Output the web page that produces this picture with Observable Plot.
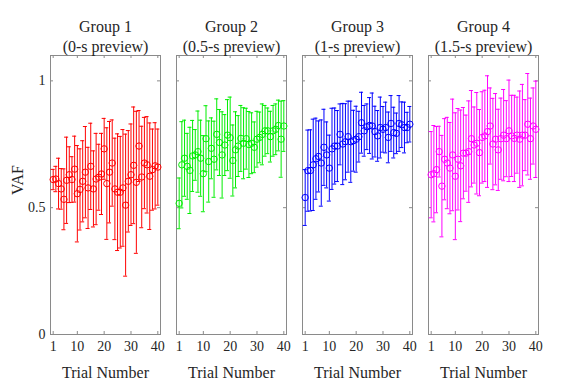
<!DOCTYPE html>
<html><head><meta charset="utf-8">
<script src="https://cdn.jsdelivr.net/npm/d3@7"></script>
<script src="https://cdn.jsdelivr.net/npm/@observablehq/plot@0.6"></script>
<style>
body{margin:0;background:#fff;}
#chart{width:574px;height:383px;}
#chart svg, #chart svg text{font-family:"Liberation Serif",serif !important;}
</style></head>
<body><div id="chart"></div>
<script>
const groups = ["Group 1", "Group 2", "Group 3", "Group 4"];
const previews = ["(0-s preview)", "(0.5-s preview)", "(1-s preview)", "(1.5-s preview)"];
const colors = ["#ff0000", "#00ee00", "#0000ff", "#ff00ff"];
const trials = [1,2,3,4,5,6,7,8,9,10,11,12,13,14,15,16,17,18,19,20,21,22,23,24,25,26,27,28,29,30,31,32,33,34,35,36,37,38,39,40];
const xTicks = [1, 10, 20, 30, 40];
const yTicks = [0, 0.5, 1];
const yTickLabels = ["0", "0.5", "1"];
const xLabel = "Trial Number";
const yLabel = "VAF";

const mean1 = [0.611,0.613,0.595,0.574,0.533,0.608,0.63,0.611,0.652,0.555,0.572,0.604,0.64,0.578,0.663,0.574,0.613,0.62,0.633,0.732,0.595,0.64,0.676,0.574,0.561,0.561,0.578,0.51,0.604,0.63,0.667,0.60,0.743,0.621,0.676,0.669,0.624,0.65,0.665,0.66];
const err1  = [0.04,0.05,0.10,0.08,0.12,0.17,0.11,0.09,0.13,0.19,0.16,0.16,0.18,0.16,0.17,0.15,0.18,0.13,0.16,0.12,0.22,0.20,0.17,0.20,0.23,0.22,0.23,0.28,0.20,0.20,0.23,0.28,0.14,0.20,0.18,0.19,0.21,0.16,0.17,0.15];

const mean2 = [0.517,0.669,0.695,0.663,0.647,0.704,0.708,0.721,0.695,0.634,0.772,0.682,0.734,0.691,0.789,0.757,0.708,0.747,0.786,0.776,0.686,0.728,0.743,0.773,0.754,0.772,0.749,0.754,0.738,0.77,0.777,0.789,0.803,0.803,0.78,0.803,0.809,0.824,0.77,0.822];
const err2  = [0.10,0.17,0.15,0.13,0.17,0.14,0.10,0.16,0.15,0.15,0.13,0.16,0.12,0.15,0.14,0.13,0.17,0.12,0.14,0.16,0.14,0.15,0.12,0.13,0.14,0.12,0.13,0.12,0.10,0.11,0.10,0.12,0.10,0.09,0.10,0.10,0.10,0.10,0.15,0.10];

const mean3 = [0.54,0.646,0.647,0.669,0.693,0.702,0.676,0.738,0.708,0.656,0.732,0.743,0.743,0.789,0.751,0.76,0.78,0.76,0.764,0.77,0.78,0.835,0.803,0.819,0.824,0.822,0.80,0.783,0.816,0.809,0.816,0.777,0.832,0.796,0.793,0.832,0.827,0.816,0.816,0.829];
const err3  = [0.11,0.16,0.16,0.18,0.16,0.14,0.17,0.15,0.13,0.13,0.16,0.15,0.14,0.12,0.16,0.15,0.14,0.16,0.12,0.13,0.10,0.12,0.10,0.09,0.11,0.13,0.10,0.10,0.12,0.09,0.10,0.10,0.11,0.10,0.08,0.11,0.09,0.10,0.06,0.07];

const mean4 = [0.63,0.634,0.65,0.721,0.585,0.691,0.676,0.656,0.708,0.624,0.691,0.665,0.715,0.715,0.721,0.772,0.747,0.754,0.717,0.777,0.783,0.80,0.822,0.751,0.77,0.728,0.772,0.786,0.772,0.803,0.783,0.773,0.786,0.77,0.786,0.786,0.829,0.772,0.822,0.809];
const err4  = [0.17,0.19,0.17,0.10,0.20,0.16,0.18,0.18,0.22,0.25,0.20,0.22,0.18,0.15,0.20,0.19,0.15,0.20,0.17,0.18,0.18,0.22,0.15,0.18,0.18,0.16,0.16,0.18,0.15,0.20,0.16,0.17,0.15,0.19,0.20,0.14,0.20,0.16,0.15,0.19];

const means = [mean1, mean2, mean3, mean4];
const errs = [err1, err2, err3, err4];

const rows = [];
groups.forEach((g, gi) => {
  trials.forEach((t, i) => {
    rows.push({group: g, trial: t, mean: means[gi][i], lo: means[gi][i] - errs[gi][i], hi: means[gi][i] + errs[gi][i]});
  });
});
const titleRows = groups.map((g, i) => ({group: g, label: g + "\n" + previews[i]}));
const labelRows = groups.map(g => ({group: g, label: xLabel}));
const tickRowsX = groups.flatMap(g => xTicks.map(t => ({group: g, v: t})));
const tickRowsY = groups.flatMap(g => yTicks.map(t => ({group: g, v: t})));

const font = "Liberation Serif";
const xMax = 41, yMax = 1.1;
const ink = "#262626", axisGray = "#8a8a8a";

const chart = Plot.plot({
  width: 574,
  height: 383,
  marginLeft: 50,
  marginRight: 34.7,
  marginTop: 55,
  marginBottom: 49,
  style: {fontFamily: font, background: "#fff"},
  fx: {domain: groups, axis: null, paddingInner: 0.124, paddingOuter: 0},
  x: {domain: [0, xMax]},
  y: {domain: [0, yMax]},
  color: {domain: groups, range: colors},
  marks: [
    Plot.frame({stroke: axisGray, strokeWidth: 1}),
    Plot.ruleX(tickRowsX, {fx: "group", x: "v", y1: 0, y2: 0, insetBottom: 3, stroke: axisGray}),
    Plot.ruleX(tickRowsX, {fx: "group", x: "v", y1: yMax, y2: yMax, insetTop: 3, stroke: axisGray}),
    Plot.ruleY(tickRowsY, {fx: "group", y: "v", x1: 0, x2: 0, insetRight: -3, stroke: axisGray}),
    Plot.ruleY(tickRowsY, {fx: "group", y: "v", x1: xMax, x2: xMax, insetLeft: -3, stroke: axisGray}),
    Plot.ruleX(rows, {fx: "group", x: "trial", y1: "lo", y2: "hi", stroke: "group", strokeWidth: 1}),
    Plot.ruleY(rows, {fx: "group", y: "hi", x1: "trial", x2: "trial", insetLeft: -2, insetRight: -2, stroke: "group", strokeWidth: 1}),
    Plot.ruleY(rows, {fx: "group", y: "lo", x1: "trial", x2: "trial", insetLeft: -2, insetRight: -2, stroke: "group", strokeWidth: 1}),
    Plot.dot(rows, {fx: "group", x: "trial", y: "mean", r: 3.2, stroke: "group", fill: "none", strokeWidth: 1}),
    Plot.axisX({ticks: xTicks, tickSize: 0, tickPadding: 7, fontSize: 14, fontFamily: font, fill: ink, label: null}),
    Plot.axisY({ticks: yTicks, tickFormat: (d) => yTickLabels[yTicks.indexOf(d)], tickSize: 0, tickPadding: 5, fontSize: 14, fontFamily: font, fill: ink, label: null}),
    Plot.text([yLabel], {text: (d) => d, frameAnchor: "left", dx: -33, rotate: -90, fontSize: 16, fontFamily: font, fill: ink, facetAnchor: "left"}),
    Plot.text(labelRows, {fx: "group", text: "label", frameAnchor: "bottom", lineAnchor: "middle", dy: 38, fontSize: 16, fontFamily: font, fill: ink}),
    Plot.text(titleRows, {fx: "group", text: "label", frameAnchor: "top", lineAnchor: "bottom", dy: -4, fontSize: 16, lineHeight: 1.2, fontFamily: font, fill: ink})
  ]
});
document.getElementById("chart").appendChild(chart);
</script>
</body></html>
